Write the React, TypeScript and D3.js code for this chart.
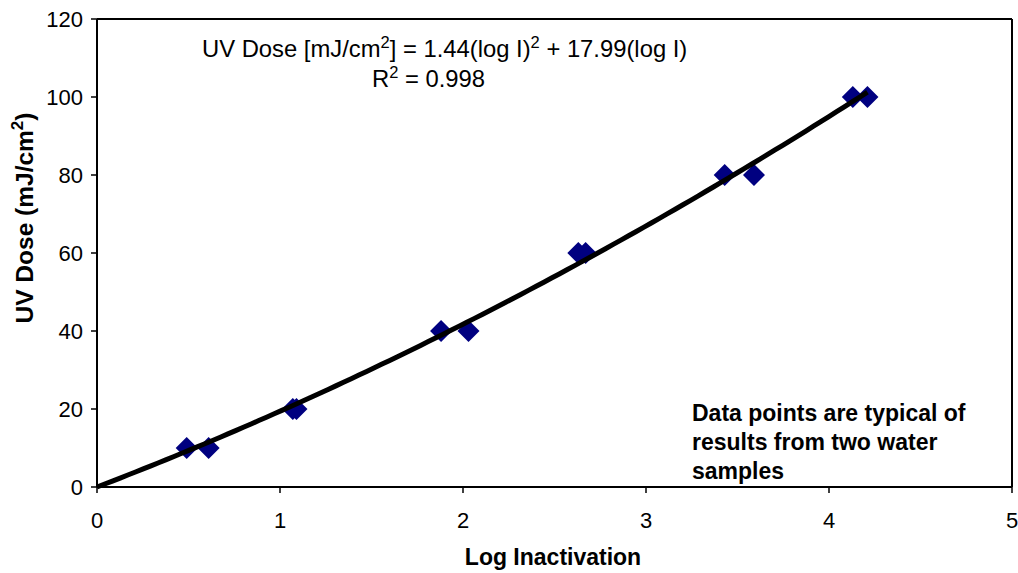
import React from "react";
import * as d3 from "d3";

const sampleA_x = [0.49, 1.07, 1.88, 2.63, 3.43, 4.13];
const sampleB_x = [0.61, 1.09, 2.03, 2.67, 3.59, 4.21];
const doseY = [10, 20, 40, 60, 80, 100];
const xTicks = [0, 1, 2, 3, 4, 5];
const yTicks = [0, 20, 40, 60, 80, 100, 120];
const fitA = 1.44;
const fitB = 17.99;
const fitRange = [0, 4.21];

const W = 1018, H = 573;
const M = { left: 97, right: 1012, top: 19, bottom: 487 };
const FONT = "'Liberation Sans', Arial, sans-serif";

export default function App() {
  const x = d3.scaleLinear().domain([0, 5]).range([M.left, M.right]);
  const y = d3.scaleLinear().domain([0, 120]).range([M.bottom, M.top]);
  const fitPts = d3.range(0, 101).map(i => {
    const v = fitRange[0] + (fitRange[1] - fitRange[0]) * i / 100;
    return [v, fitA * v * v + fitB * v] as [number, number];
  });
  const line = d3.line<[number, number]>().x(d => x(d[0])).y(d => y(d[1]));
  const pts = [
    ...sampleA_x.map((v, i) => [v, doseY[i]]),
    ...sampleB_x.map((v, i) => [v, doseY[i]]),
  ];
  const s = 11;
  return (
    <svg width={W} height={H} style={{ position: "absolute", left: 0, top: 0, background: "#fff" }} fontFamily={FONT}>
      <line x1={M.left} x2={M.right} y1={M.top} y2={M.top} stroke="#000" strokeWidth={2} />
      <line x1={M.right} x2={M.right} y1={M.top} y2={M.bottom} stroke="#000" strokeWidth={2} />
      <line x1={M.left} x2={M.right} y1={M.bottom} y2={M.bottom} stroke="#000" strokeWidth={2} />
      <line x1={M.left} x2={M.left} y1={M.top} y2={M.bottom} stroke="#000" strokeWidth={2} />
      {yTicks.map(t => (
        <g key={"y" + t}>
          <line x1={M.left - 6} x2={M.left} y1={y(t)} y2={y(t)} stroke="#000" strokeWidth={1.5} />
          <text x={M.left - 14} y={y(t)} dy="0.36em" textAnchor="end" fontSize={22}>{t}</text>
        </g>
      ))}
      {xTicks.map(t => (
        <g key={"x" + t}>
          <line x1={x(t)} x2={x(t)} y1={M.bottom} y2={M.bottom + 6} stroke="#000" strokeWidth={1.5} />
          <text x={x(t)} y={M.bottom + 41} textAnchor="middle" fontSize={22}>{t}</text>
        </g>
      ))}
      {pts.map((p, i) => (
        <path key={i} d={`M${x(p[0])},${y(p[1]) - s}L${x(p[0]) + s},${y(p[1])}L${x(p[0])},${y(p[1]) + s}L${x(p[0]) - s},${y(p[1])}Z`} fill="#000080" />
      ))}
      <path d={line(fitPts) || ""} fill="none" stroke="#000" strokeWidth={5} />
      <text x={202} y={57} fontSize={23.8}>
        UV Dose [mJ/cm<tspan dy={-9} fontSize={16.5}>2</tspan><tspan dy={9}>] = 1.44(log I)</tspan><tspan dy={-9} fontSize={16.5}>2</tspan><tspan dy={9}> + 17.99(log I)</tspan>
      </text>
      <text x={372} y={87} fontSize={23.8}>
        R<tspan dy={-9} fontSize={16.5}>2</tspan><tspan dy={9}> = 0.998</tspan>
      </text>
      <text fontSize={23} fontWeight="bold">
        <tspan x={692} y={421}>Data points are typical of</tspan>
        <tspan x={692} y={450}>results from two water</tspan>
        <tspan x={692} y={479}>samples</tspan>
      </text>
      <text x={553} y={565} textAnchor="middle" fontSize={23} fontWeight="bold">Log Inactivation</text>
      <text transform={`translate(33,218) rotate(-90)`} textAnchor="middle" fontSize={24.5} fontWeight="bold">
        UV Dose (mJ/cm<tspan dy={-10} fontSize={17}>2</tspan><tspan dy={10}>)</tspan>
      </text>
    </svg>
  );
}
